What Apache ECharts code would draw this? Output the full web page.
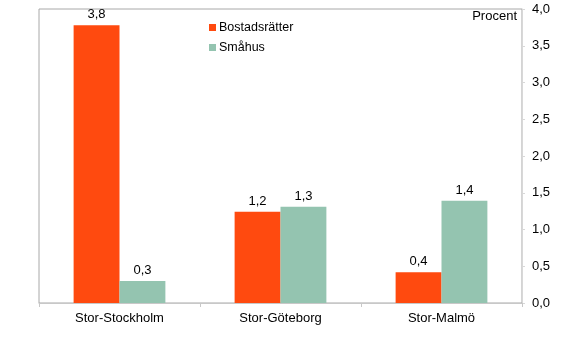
<!DOCTYPE html>
<html><head><meta charset="utf-8">
<script src="https://cdn.jsdelivr.net/npm/echarts@6/dist/echarts.min.js"></script>
<style>html,body{margin:0;padding:0;background:#fff}#c{width:577px;height:338px}</style>
</head><body><div id="c"></div>
<script>
const categories = ['Stor-Stockholm', 'Stor-Göteborg', 'Stor-Malmö'];
const bostadsratter = [3.78, 1.24, 0.42];
const smahus = [0.30, 1.31, 1.39];
const yTicks = [0, 0.5, 1, 1.5, 2, 2.5, 3, 3.5, 4];
const unitLabel = 'Procent';
const font = 'Liberation Sans, Arial, sans-serif';
const fmt = v => v.toFixed(1).replace('.', ',');
const chart = echarts.init(document.getElementById('c'));
chart.setOption({
  animation: false,
  textStyle: {fontFamily: font},
  grid: {left: 39, right: 55, top: 9, bottom: 35, show: true, borderColor: '#a8a8a8', borderWidth: 1},
  legend: {
    orient: 'vertical', left: 204, top: 16, itemWidth: 7, itemHeight: 7, itemGap: 7,
    icon: 'rect',
    textStyle: {fontFamily: font, fontSize: 12.5, color: '#000', padding: [0, 0, 0, -2]},
    data: ['Bostadsrätter', 'Småhus']
  },
  graphic: [{type: 'text', right: 60, top: 10, style: {text: unitLabel, font: '13px ' + font, fill: '#000'}}],
  xAxis: {
    type: 'category', data: categories,
    axisLine: {lineStyle: {color: '#c8c8c8'}},
    axisTick: {show: true, length: 4, lineStyle: {color: '#c8c8c8'}},
    axisLabel: {fontSize: 13, color: '#000', margin: 9, fontFamily: font}
  },
  yAxis: {
    type: 'value', position: 'right', min: 0, max: 4, interval: 0.5,
    splitLine: {show: false},
    axisLine: {show: true, lineStyle: {color: '#d8d8d8'}},
    axisTick: {show: true, length: 3, lineStyle: {color: '#d8d8d8'}},
    axisLabel: {fontSize: 13, color: '#000', margin: 10, fontFamily: font,
      formatter: v => yTicks.includes(v) ? fmt(v) : ''}
  },
  series: [
    {name: 'Bostadsrätter', type: 'bar', data: bostadsratter, barCategoryGap: '43%', barGap: '0%',
     itemStyle: {color: '#FF4A0F'},
     label: {show: true, position: 'top', distance: 4, fontSize: 13, color: '#000', fontFamily: font, formatter: p => fmt(p.value)}},
    {name: 'Småhus', type: 'bar', data: smahus, barCategoryGap: '43%', barGap: '0%',
     itemStyle: {color: '#94C4B0'},
     label: {show: true, position: 'top', distance: 4, fontSize: 13, color: '#000', fontFamily: font, formatter: p => fmt(p.value)}}
  ]
});
</script></body></html>
